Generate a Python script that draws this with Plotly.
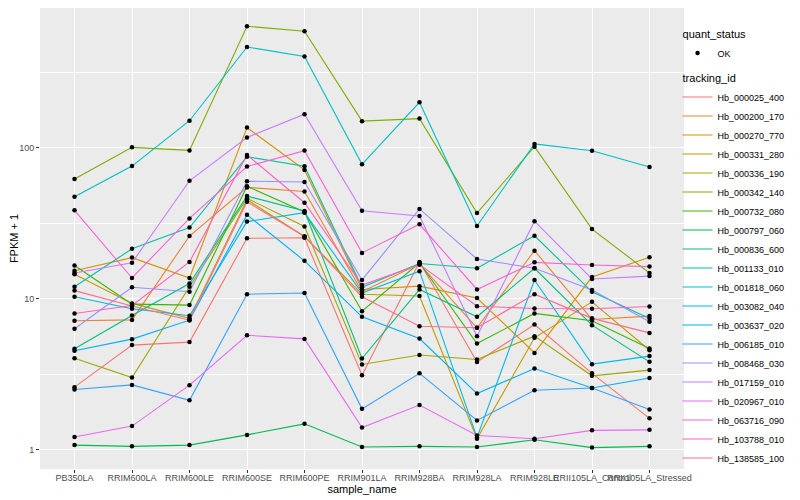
import plotly.graph_objects as go

# ---- categories ----
samples = ["PB350LA", "RRIM600LA", "RRIM600LE", "RRIM600SE", "RRIM600PE",
           "RRIM901LA", "RRIM928BA", "RRIM928LA", "RRIM928LE",
           "RRII105LA_Control", "RRII105LA_Stressed"]

tracking_ids = ["Hb_000025_400", "Hb_000200_170", "Hb_000270_770", "Hb_000331_280",
                "Hb_000336_190", "Hb_000342_140", "Hb_000732_080", "Hb_000797_060",
                "Hb_000836_600", "Hb_001133_010", "Hb_001818_060", "Hb_003082_040",
                "Hb_003637_020", "Hb_006185_010", "Hb_008468_030", "Hb_017159_010",
                "Hb_020967_010", "Hb_063716_090", "Hb_103788_010", "Hb_138585_100"]

# ---- FPKM + 1 values (one list per gene, in sample order) ----
hb_000025_400 = [2.59, 4.92, 5.15, 25.1, 25.3, 3.11, 17.5, 3.8, 6.74, 3.2, 1.61]
hb_000200_170 = [7.13, 7.23, 26.0, 54.6, 51.3, 11.1, 17.0, 6.41, 20.8, 7.28, 7.66]
hb_000270_770 = [15.3, 18.7, 13.7, 136, 71.3, 11.5, 12.1, 10.1, 4.37, 13.9, 18.8]
hb_000331_280 = [14.5, 9.3, 7.4, 45.2, 25.8, 10.7, 10.4, 1.18, 5.5, 9.52, 4.55]
hb_000336_190 = [4.03, 3.0, 12.0, 46.2, 30.1, 3.66, 4.23, 3.95, 5.64, 3.08, 3.36]
hb_000342_140 = [62, 100.6, 96, 638, 592, 150, 156, 36.9, 101.6, 28.9, 14.8]
hb_000732_080 = [16.6, 9.2, 9.06, 55.6, 37.5, 8.26, 17.3, 5.04, 7.98, 7.13, 4.67]
hb_000797_060 = [1.07, 1.05, 1.07, 1.25, 1.48, 1.04, 1.05, 1.04, 1.16, 1.03, 1.05]
hb_000836_600 = [4.65, 7.74, 12.6, 47.8, 38.1, 4.01, 11.5, 7.58, 15.9, 6.67, 3.81]
hb_001133_010 = [12.0, 21.4, 29.6, 87.2, 75.5, 11.9, 17.1, 15.9, 26.1, 11.1, 7.39]
hb_001818_060 = [47.3, 75.6, 151, 465, 402, 77.6, 200, 30.3, 106, 95.5, 74.5]
hb_003082_040 = [10.3, 8.57, 7.7, 32.4, 37.1, 10.9, 15.2, 1.20, 13.3, 3.68, 4.16]
hb_003637_020 = [4.51, 5.39, 7.2, 35.9, 17.8, 7.58, 5.44, 2.35, 3.44, 2.56, 2.98]
hb_006185_010 = [2.50, 2.68, 2.12, 10.7, 10.9, 1.86, 3.20, 1.56, 2.47, 2.56, 1.84]
hb_008468_030 = [6.31, 11.9, 11.1, 60.0, 59.3, 13.3, 39.3, 18.3, 15.9, 11.4, 7.02]
hb_017159_010 = [14.8, 17.3, 60.4, 117, 167, 38.2, 35.3, 5.64, 32.6, 13.5, 14.1]
hb_020967_010 = [1.21, 1.43, 2.67, 5.72, 5.41, 1.40, 1.97, 1.24, 1.18, 1.34, 1.35]
hb_063716_090 = [38.5, 13.7, 34.0, 75.1, 95.7, 20.1, 31.1, 11.5, 17.4, 16.7, 16.3]
hb_103788_010 = [7.98, 9.0, 17.5, 89.6, 43.2, 12.3, 16.8, 8.91, 8.61, 8.56, 8.87]
hb_138585_100 = [11.3, 8.94, 7.2, 43.8, 25.8, 10.3, 6.56, 6.41, 10.7, 7.4, 5.93]

series = [hb_000025_400, hb_000200_170, hb_000270_770, hb_000331_280, hb_000336_190,
          hb_000342_140, hb_000732_080, hb_000797_060, hb_000836_600, hb_001133_010,
          hb_001818_060, hb_003082_040, hb_003637_020, hb_006185_010, hb_008468_030,
          hb_017159_010, hb_020967_010, hb_063716_090, hb_103788_010, hb_138585_100]

quant_status = ["OK"]

# ---- styles (ggplot2 hue palette) ----
colors = ["#F8766D", "#EA8331", "#D89000", "#C09B00", "#A3A500", "#7CAE00", "#39B600",
          "#00BB4E", "#00BF7D", "#00C1A3", "#00BFC4", "#00BAE0", "#00B0F6", "#35A2FF",
          "#9590FF", "#C77CFF", "#E76BF3", "#FA62DB", "#FF62BC", "#FF6C91"]

FONT = "Liberation Sans, Arial, sans-serif"

fig = go.Figure()
for i, (tid, vals, col) in enumerate(zip(tracking_ids, series, colors)):
    fig.add_trace(go.Scatter(
        x=samples, y=vals, mode="lines", name=tid,
        line=dict(color=col, width=1.1),
        legendgroup="tracking_id", legendgrouptitle_text="tracking_id",
        legendrank=10 + i))

px, py = [], []
for vals in series:
    px.extend(samples)
    py.extend(vals)
fig.add_trace(go.Scatter(
    x=px, y=py, mode="markers", name=quant_status[0],
    marker=dict(color="black", size=4.5),
    legendgroup="quant_status", legendgrouptitle_text="quant_status",
    legendrank=1))

grid = dict(showgrid=True, gridcolor="white", gridwidth=1.4, zeroline=False,
            showline=False, ticks="outside", ticklen=3, tickwidth=1,
            tickcolor="#333333", automargin=False,
            tickfont=dict(family=FONT, size=9, color="#4D4D4D"))

# page body adds an 8px offset, so the figure is 792x492
fig.update_layout(
    width=792, height=492,
    margin=dict(l=32, r=116, t=0, b=31, autoexpand=False),
    paper_bgcolor="white", plot_bgcolor="#EBEBEB",
    font=dict(family=FONT, color="black"),
    xaxis=dict(type="category", range=[-0.6, len(samples) - 0.4], tickangle=0,
               ticklabelstandoff=-3,
               title=dict(text="sample_name", font=dict(size=11), standoff=0), **grid),
    yaxis=dict(type="log", range=[-0.129, 2.926], tickvals=[1, 10, 100],
               ticktext=["1", "10", "100"],
               minor=dict(tickvals=[10 ** 0.5, 10 ** 1.5, 10 ** 2.5], showgrid=True,
                          gridcolor="white", gridwidth=0.7, ticks=""),
               title=dict(text="FPKM + 1", font=dict(size=11), standoff=0), **grid),
    legend=dict(x=0.99, xanchor="left", y=0.975, yanchor="top",
                traceorder="grouped", tracegroupgap=6, itemwidth=30,
                font=dict(family=FONT, size=9, color="black"),
                grouptitlefont=dict(family=FONT, size=11, color="black"),
                bgcolor="rgba(0,0,0,0)"),
    showlegend=True,
)

fig.write_html("out.html")
